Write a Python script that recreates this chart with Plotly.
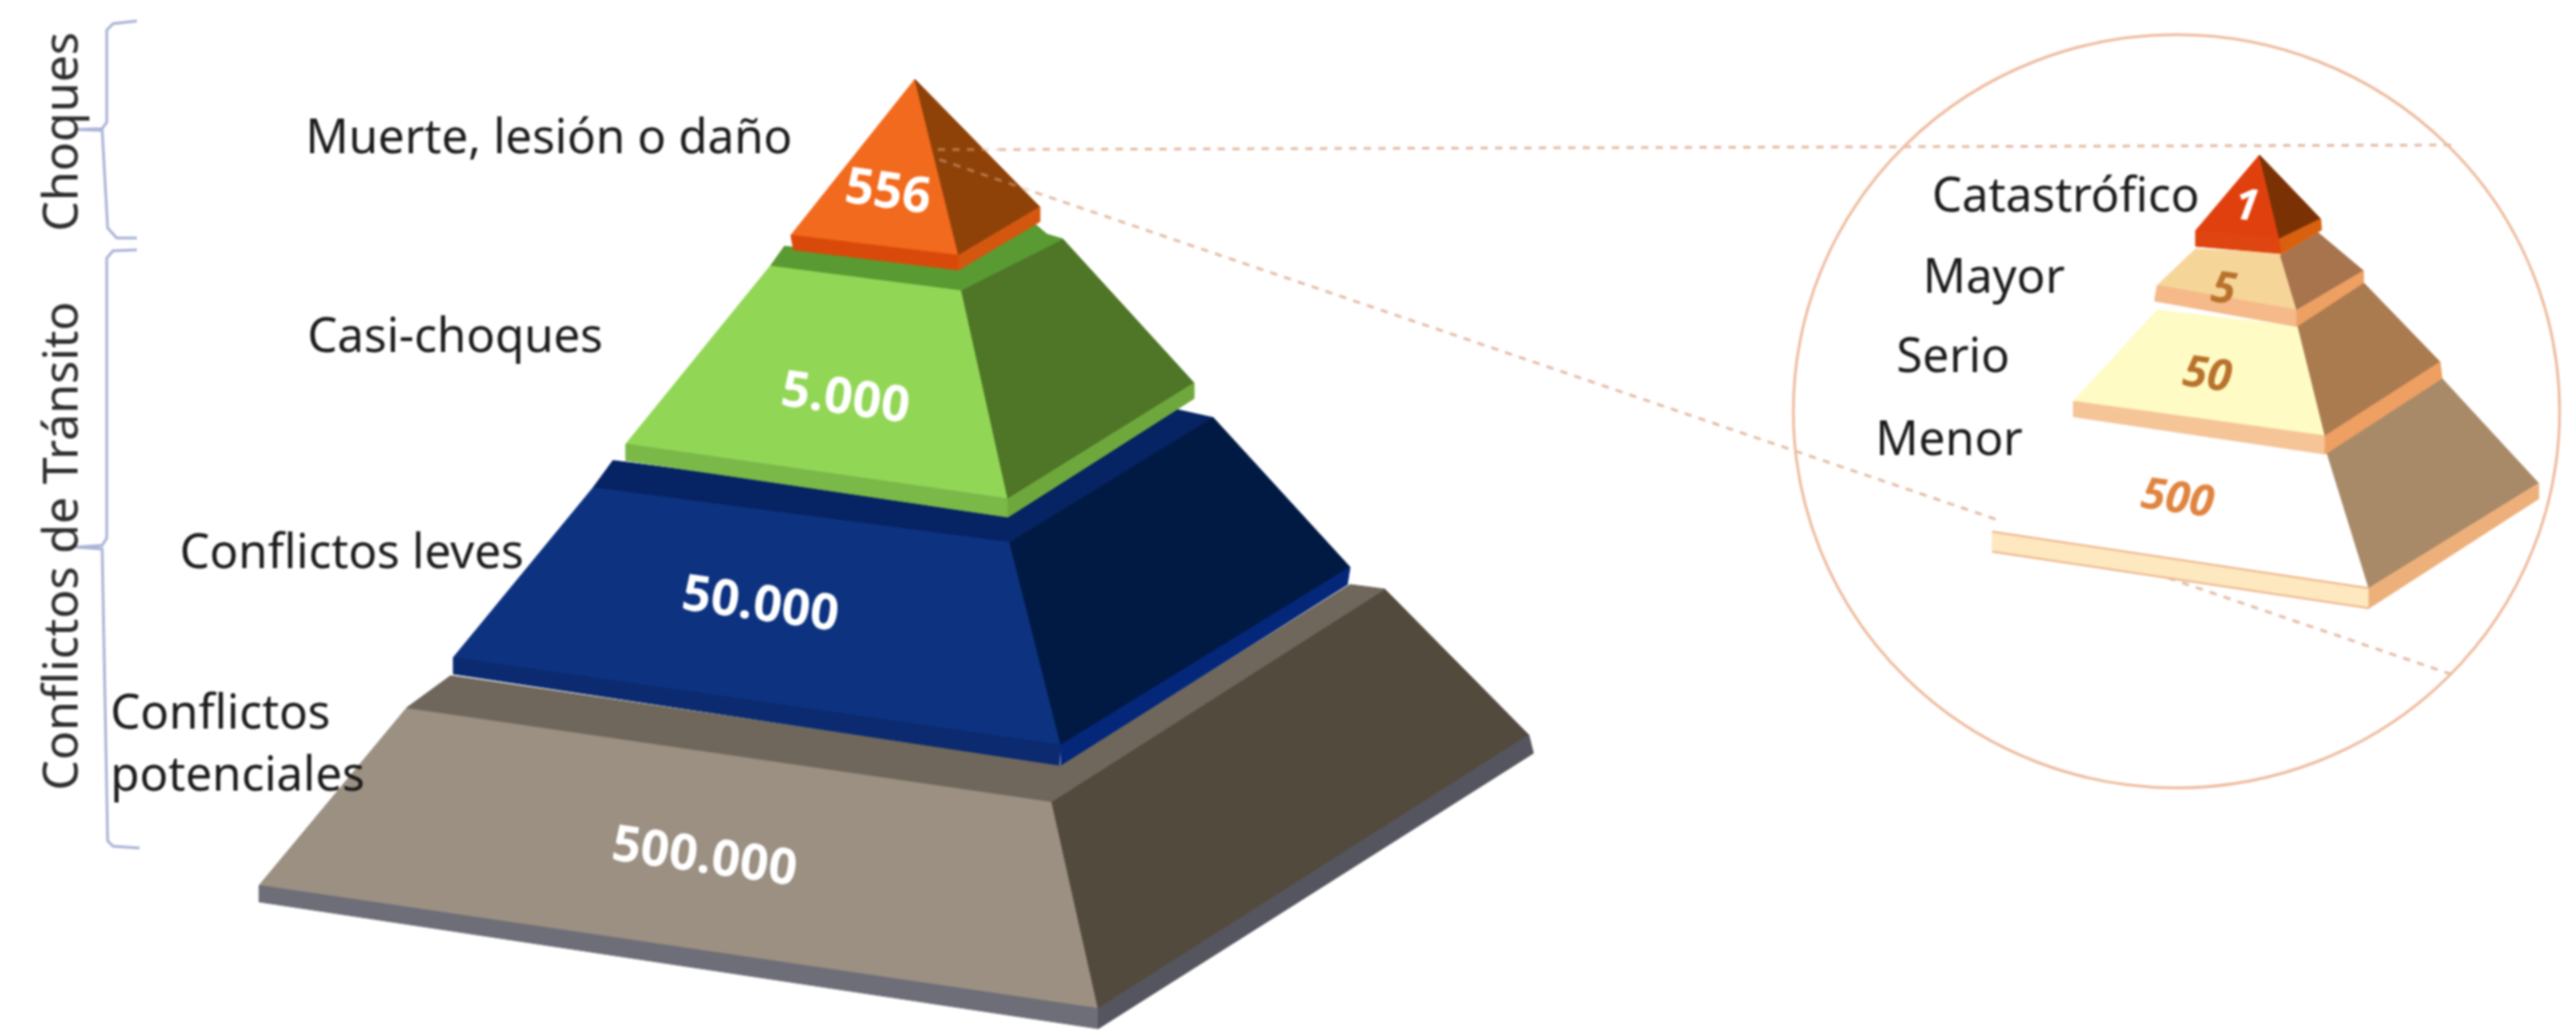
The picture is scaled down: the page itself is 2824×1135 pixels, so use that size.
import plotly.graph_objects as go

# ---- content ----
main_labels = ["Muerte, lesión o daño", "Casi-choques", "Conflictos leves", "Conflictos<br>potenciales"]
main_values = ["556", "5.000", "50.000", "500.000"]
inset_labels = ["Catastrófico", "Mayor", "Serio", "Menor"]
inset_values = ["1", "5", "50", "500"]
group_labels = ["Choques", "Conflictos de Tránsito"]

# ---- diagram geometry (picture coordinates on the axes) ----
main_polys = [
    # base tier
    ("#9b9082", [(446, 776), (1153, 879), (1204, 1106), (284, 971)]),
    ("#6e6e78", [(284, 971), (1204, 1106), (1204, 1128), (284, 989)]),
    ("#534a3e", [(1153, 879), (1518, 646), (1676, 806), (1204, 1106)]),
    ("#55555f", [(1676, 806), (1681, 826), (1204, 1128), (1204, 1106)]),
    ("#6f675b", [(494, 741), (1163, 839), (1480, 641), (1518, 646), (1153, 879), (446, 776)]),
    # blue tier
    ("#062363", [(672, 505), (1105, 562), (1285, 448), (1330, 458), (1107, 595), (650, 535)]),
    ("#0d3380", [(650, 535), (1107, 595), (1163, 817), (497, 721)]),
    ("#0b2a70", [(497, 721), (1163, 817), (1161, 839), (497, 739)]),
    ("#011a44", [(1107, 595), (1330, 458), (1480, 622), (1163, 817)]),
    ("#04277a", [(1480, 622), (1477, 641), (1163, 839), (1163, 817)]),
    # green tier
    ("#92d656", [(845, 291), (1054, 318), (1105, 547), (686, 487)]),
    ("#7ab848", [(686, 487), (1105, 547), (1105, 567), (686, 505)]),
    ("#4f7526", [(1054, 318), (1165, 262), (1309, 420), (1105, 547)]),
    ("#6ea83c", [(1309, 420), (1309, 437), (1105, 567), (1105, 547)]),
    ("#5a9a32", [(860, 270), (1051, 292), (1135, 246), (1148, 257), (1165, 262), (1054, 318), (845, 291)]),
    # orange tier
    ("#f26a1d", [(1003, 87), (1051, 280), (867, 258)]),
    ("#d94a0a", [(867, 258), (1051, 280), (1051, 296), (870, 274)]),
    ("#8f4208", [(1003, 87), (1140, 227), (1051, 280)]),
    ("#d4570f", [(1140, 227), (1140, 243), (1051, 296), (1051, 280)]),
]
inset_polys = [
    # menor
    ("#ffffff", [(2280, 455), (2549, 490), (2597, 645), (2184, 583)]),
    ("#fde8bf", [(2184, 583), (2597, 645), (2597, 667), (2184, 605)]),
    ("#a98a68", [(2549, 490), (2677, 415), (2783, 530), (2597, 645)]),
    ("#eeb07a", [(2783, 530), (2783, 547), (2597, 667), (2597, 645)]),
    # serio
    ("#fffbc4", [(2365, 340), (2518, 358), (2549, 478), (2273, 440)]),
    ("#f5c598", [(2273, 440), (2549, 478), (2549, 498), (2273, 457)]),
    ("#ab7b50", [(2518, 353), (2591, 310), (2675, 397), (2549, 478)]),
    ("#ee9f62", [(2675, 397), (2677, 415), (2549, 498), (2549, 478)]),
    # mayor
    ("#f6d598", [(2407, 273), (2505, 278), (2518, 340), (2365, 313)]),
    ("#f5b98a", [(2365, 313), (2518, 340), (2518, 358), (2362, 330)]),
    ("#a8744e", [(2500, 280), (2541, 255), (2591, 297), (2518, 340)]),
    ("#ee9f62", [(2591, 297), (2591, 310), (2518, 358), (2518, 340)]),
    # catastrofico
    ("#e0400e", [(2477, 170), (2499, 262), (2407, 253)]),
    ("#df4510", [(2407, 253), (2499, 262), (2502, 278), (2407, 270)]),
    ("#7a3204", [(2477, 170), (2544, 240), (2499, 262)]),
    ("#d9600f", [(2544, 240), (2545, 252), (2502, 278), (2499, 262)]),
]
slab_edges = [([2184, 2597], [583, 645]), ([2184, 2597], [605, 667])]
circle_x, circle_y, circle_rx, circle_ry = 2386, 451, 420, 413
dash_top = ([1095, 2691], [164, 159])
dash_low = ([1135, 2686], [211, 739])
faint_top = ([1028, 1095], [164, 164])
faint_low = ([1030, 1135], [175, 211])
bracket_a = ([150, 124, 117, 117, 112, 83, 112, 118, 128, 150],
             [23, 26, 33, 134, 141, 142, 143, 250, 261, 261])
bracket_b = ([150, 124, 117, 117, 112, 83, 112, 118, 124, 153],
             [274, 275, 283, 590, 598, 600, 602, 922, 928, 930])

label_pos = [(602, 147), (499, 365), (385, 602), (260, 812)]
value_pos = [(974, 206), (927, 432), (834, 658), (773, 935)]
inset_label_pos = [(2264, 211), (2186, 300), (2141, 387), (2137, 478)]
inset_value_pos = [(2463, 222), (2438, 313), (2420, 407), (2388, 543)]
inset_value_col = ["#ffffff", "#b8722c", "#b8722c", "#e0843f"]
group_pos = [(64, 145), (64, 599)]

fig = go.Figure()


def poly(color, pts):
    xs = [p[0] for p in pts] + [pts[0][0]]
    ys = [p[1] for p in pts] + [pts[0][1]]
    fig.add_trace(go.Scatter(x=xs, y=ys, mode="lines", fill="toself", fillcolor=color,
                             line=dict(color=color, width=1), hoverinfo="skip", showlegend=False))


def line(xy, color, width, dash="solid", opacity=1):
    fig.add_trace(go.Scatter(x=xy[0], y=xy[1], mode="lines", opacity=opacity,
                             line=dict(color=color, width=width, dash=dash),
                             hoverinfo="skip", showlegend=False))


for c, p in main_polys:
    poly(c, p)
line(faint_top, "#e3b79d", 3, "8px,8px", 0.45)
line(faint_low, "#e3b79d", 3, "8px,8px", 0.45)
line(dash_top, "#e3bda6", 3, "8px,8px")
line(dash_low, "#e3bda6", 3, "8px,8px")
for c, p in inset_polys:
    poly(c, p)
for edge in slab_edges:
    line(edge, "#eeb48a", 2)
line(bracket_a, "#aab4d6", 3)
line(bracket_b, "#aab4d6", 3)

fig.add_shape(type="circle", xref="x", yref="y",
              x0=circle_x - circle_rx, x1=circle_x + circle_rx,
              y0=circle_y - circle_ry, y1=circle_y + circle_ry,
              line=dict(color="#eebb9e", width=3), layer="above")

SANS = "Noto Sans"
ann = []


def text(s, x, y, size, color="#1c1c1c", angle=0, family=SANS, bold=False, italic=False, align="center"):
    t = s
    if bold:
        t = "<b>" + t + "</b>"
    if italic:
        t = "<i>" + t + "</i>"
    ann.append(dict(x=x, y=y, xref="x", yref="y", text=t, showarrow=False, textangle=angle,
                    xanchor="center", yanchor="middle", align=align,
                    font=dict(family=family, size=size, color=color)))


for s, (x, y) in zip(main_labels, label_pos):
    text(s, x, y, 52, align="left")
for s, (x, y) in zip(main_values, value_pos):
    text(s, x, y, 55, color="#ffffff", angle=8, bold=True)
for s, (x, y) in zip(inset_labels, inset_label_pos):
    text(s, x, y, 52)
for s, (x, y), col in zip(inset_values, inset_value_pos, inset_value_col):
    text(s, x, y, 48, color=col, angle=8, bold=True, italic=True)
for s, (x, y) in zip(group_labels, group_pos):
    text(s, x, y, 53, color="#2e2e2e", angle=-90)

fig.update_layout(
    width=2824, height=1135, margin=dict(l=0, r=0, t=0, b=0),
    paper_bgcolor="#ffffff", plot_bgcolor="#ffffff", showlegend=False,
    xaxis=dict(range=[0, 2824], visible=False, fixedrange=True),
    yaxis=dict(range=[1135, 0], visible=False, fixedrange=True),
    annotations=ann,
)
fig.write_html(
    "out.html",
    config={"displayModeBar": False},
    post_script="document.body.style.margin='0';"
                "document.querySelector('.plotly-graph-div').style.filter='blur(1px)';",
)
